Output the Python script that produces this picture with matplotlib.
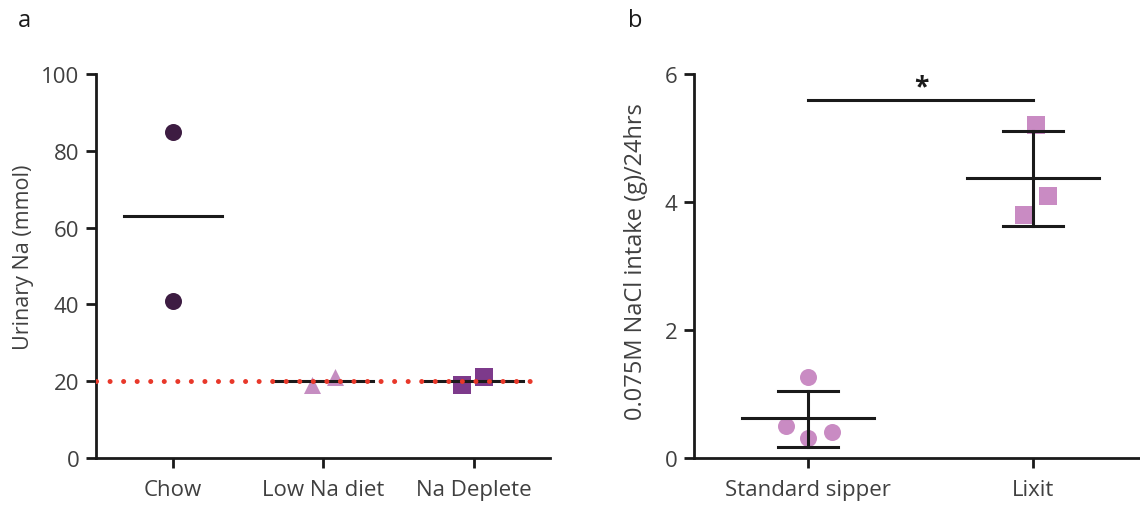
import matplotlib

matplotlib.use("Agg")

import matplotlib.pyplot as plt

plt.rcParams["font.family"] = ["Open Sans", "DejaVu Sans"]

# panel a: urinary sodium
diet_groups = ["Chow", "Low Na diet", "Na Deplete"]
chow_na = [85, 41]
low_na = [19, 21]
deplete_na = [19, 21]
diet_means = [63, 20, 20]
na_threshold = 20

# panel b: NaCl intake
sipper_groups = ["Standard sipper", "Lixit"]
standard_intake = [1.27, 0.50, 0.31, 0.41]
lixit_intake = [5.20, 4.10, 3.80]
intake_means = [0.625, 4.37]
intake_lower = [0.17, 3.63]
intake_upper = [1.05, 5.11]

# small horizontal scatter of points around each category
low_na_jitter = [-0.075, 0.08]
deplete_jitter = [-0.08, 0.068]
standard_jitter = [0.0, -0.098, 0.0, 0.107]
lixit_jitter = [0.013, 0.067, -0.04]

TEXT = "#404040"
LINE = "#1a1a1a"


def style_axes(ax):
    for side in ("top", "right"):
        ax.spines[side].set_visible(False)
    for side in ("left", "bottom"):
        ax.spines[side].set_linewidth(2.0)
        ax.spines[side].set_color(LINE)
    ax.tick_params(width=2.0, length=7, color=LINE, labelsize=16,
                   labelcolor=TEXT, pad=5)
    ax.tick_params(axis="x", pad=8)


fig = plt.figure(figsize=(11.4, 5.06), dpi=100)

# ---- panel a ----
ax1 = fig.add_axes([0.0842, 0.0929, 0.3982, 0.7589])
style_axes(ax1)

ax1.axhline(na_threshold, color="#e8382a", linewidth=3.6,
            linestyle=(0, (0.01, 2.7)), dash_capstyle="round",
            xmax=0.985, zorder=5)

ax1.scatter([0] * len(chow_na), chow_na, s=150, color="#3d1c42", zorder=3,
            linewidths=0)
ax1.scatter([1 + d for d in low_na_jitter], low_na, s=150, marker="^",
            color="#c58dc1", zorder=3, linewidths=0)
ax1.scatter([2 + d for d in deplete_jitter], deplete_na, s=150, marker="s",
            color="#7d3a8b", zorder=3, linewidths=0)

for i, m in enumerate(diet_means):
    ax1.plot([i - 0.327, i + 0.327], [m, m], color=LINE, linewidth=2.2, zorder=4)

ax1.set_xlim(-0.513, 2.507)
ax1.set_ylim(0, 100)
ax1.set_yticks([0, 20, 40, 60, 80, 100])
ax1.set_xticks(range(len(diet_groups)))
ax1.set_xticklabels(diet_groups)
ax1.set_ylabel("Urinary Na (mmol)", fontsize=15.5, color=TEXT)
ax1.yaxis.set_label_coords(-0.137, 0.526)
fig.text(0.016, 0.947, "a", fontsize=17, color=LINE, va="baseline")

# ---- panel b ----
ax2 = fig.add_axes([0.6088, 0.0929, 0.3912, 0.7589])
style_axes(ax2)

ax2.scatter([0 + d for d in standard_jitter], standard_intake, s=150,
            color="#c98bc3", zorder=3, linewidths=0)
ax2.scatter([1 + d for d in lixit_jitter], lixit_intake, s=150, marker="s",
            color="#c98bc3", zorder=3, linewidths=0)

for i in range(len(sipper_groups)):
    ax2.plot([i - 0.293, i + 0.293], [intake_means[i]] * 2, color=LINE,
             linewidth=2.2, zorder=4)
    ax2.plot([i, i], [intake_lower[i], intake_upper[i]], color=LINE,
             linewidth=2.2, zorder=4)
    for cap in (intake_lower[i], intake_upper[i]):
        ax2.plot([i - 0.133, i + 0.133], [cap, cap], color=LINE,
                 linewidth=2.2, zorder=4)

# significance bar
ax2.plot([0, 1], [5.59, 5.59], color=LINE, linewidth=2.2, clip_on=False)
ax2.text(0.505, 5.8, "*", ha="center", va="center", fontsize=19,
         fontweight="bold", color=LINE)

ax2.set_xlim(-0.507, 1.475)
ax2.set_ylim(0, 6)
ax2.set_yticks([0, 2, 4, 6])
ax2.set_xticks(range(len(sipper_groups)))
ax2.set_xticklabels(sipper_groups)
ax2.set_ylabel("0.075M NaCl intake (g)/24hrs", fontsize=17, color=TEXT)
ax2.yaxis.set_label_coords(-0.103, 0.513)
fig.text(0.551, 0.947, "b", fontsize=17, color=LINE, va="baseline")

fig.savefig("out.png", dpi=100, facecolor="white")
